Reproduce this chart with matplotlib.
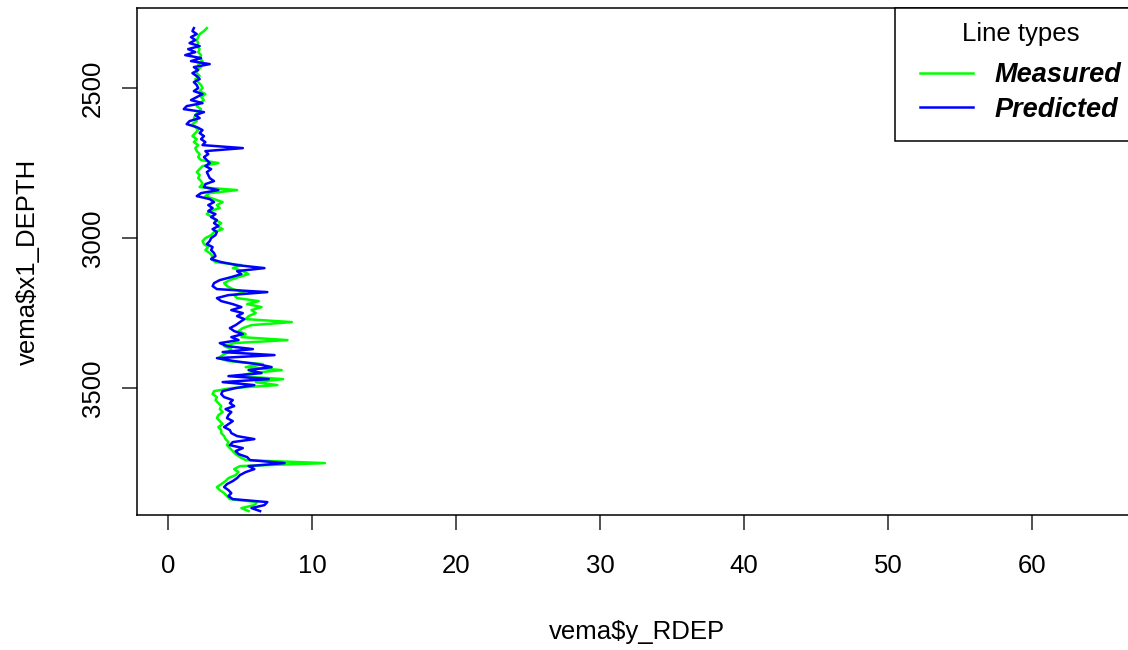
import matplotlib
matplotlib.use("Agg")
import matplotlib.pyplot as plt
from matplotlib.patches import Rectangle

plt.rcParams["font.family"] = ["Liberation Sans", "DejaVu Sans"]

# depth samples (every 10 m)
depth = list(range(2300, 3920, 10))

measured = [
    2.7, 2.5, 2.2, 2.1, 2.0, 2.1, 2.0, 2.2, 2.1, 2.3,
    2.2, 2.4, 2.1, 2.3, 2.0, 2.0, 2.2, 1.9, 2.1, 2.3,
    2.4, 2.2, 2.6, 2.3, 2.5, 2.2, 2.0, 2.3, 2.1, 1.9,
    1.8, 2.0, 1.7, 1.9, 2.1, 1.9, 1.7, 2.0, 1.8, 2.1,
    1.9, 2.0, 2.2, 2.1, 2.3, 3.5, 2.4, 2.2, 2.0, 2.2,
    2.1, 2.3, 2.4, 2.2, 4.8, 2.9, 2.6, 3.2, 3.8, 3.4,
    3.6, 2.9, 2.7, 3.1, 3.3, 3.7, 3.4, 3.8, 3.2, 3.0,
    2.6, 2.4, 2.5, 2.8, 2.6, 2.9, 3.1, 3.0, 3.3, 5.1,
    4.5, 5.2, 5.6, 4.9, 4.3, 3.9, 4.1, 4.5, 5.3, 4.6,
    4.8, 6.3, 5.5, 6.5, 5.8, 6.1, 5.6, 5.4, 8.6, 5.8,
    5.2, 4.9, 5.4, 5.1, 8.3, 4.6, 3.9, 4.4, 4.2, 3.8,
    3.5, 4.2, 6.6, 5.4, 7.9, 5.8, 4.9, 8.0, 6.1, 7.6,
    4.4, 3.2, 3.1, 3.4, 3.3, 3.5, 3.7, 3.6, 3.8, 3.5,
    3.4, 3.6, 3.8, 3.5, 3.7, 3.7, 3.9, 4.0, 4.2, 4.1,
    4.3, 4.5, 4.7, 5.0, 5.4, 10.9, 5.0, 4.6, 4.9, 4.7,
    4.2, 4.0, 3.7, 3.4, 3.6, 3.9, 4.1, 4.3, 6.2, 6.0,
    5.1, 5.6,
]

predicted = [
    1.8, 1.7, 2.0, 1.6, 1.9, 1.5, 2.2, 1.4, 1.9, 1.2,
    2.3, 1.6, 2.9, 1.8, 2.1, 1.7, 2.0, 2.2, 1.8, 2.0,
    2.1, 1.8, 2.4, 2.0, 1.6, 2.4, 1.3, 1.1, 2.5, 1.9,
    2.2, 1.5, 1.3, 2.0, 2.4, 2.2, 2.5, 2.3, 2.6, 2.4,
    5.2, 2.6, 2.8, 2.5, 2.7, 2.9, 2.6, 3.0, 2.7, 2.8,
    2.9, 3.2, 2.6, 2.5, 3.5, 2.3, 2.0, 2.9, 3.2, 2.8,
    3.1, 2.8, 3.3, 3.0, 3.4, 3.2, 3.5, 3.1, 3.4, 3.3,
    3.0, 2.9, 2.7, 3.1, 3.0, 3.2, 3.3, 3.0, 3.7, 4.8,
    6.7, 4.8, 5.1, 4.4, 3.6, 3.2, 3.1, 3.4, 6.9, 4.2,
    3.4, 3.7, 4.5, 5.1, 4.4, 5.2, 4.8, 5.3, 5.0, 4.7,
    4.3, 4.6, 5.2, 4.4, 4.9, 3.6, 4.1, 5.9, 3.8, 7.4,
    3.4, 4.6, 6.2, 7.2, 5.6, 6.5, 4.2, 7.0, 3.8, 6.0,
    4.7, 3.8, 3.7, 3.9, 4.5, 4.3, 4.6, 4.0, 4.4, 4.2,
    4.1, 4.5, 4.2, 3.9, 4.3, 4.4, 4.8, 6.0, 4.5, 4.3,
    5.2, 4.7, 4.9, 5.5, 5.7, 8.1, 5.6, 6.0, 5.4, 5.0,
    4.8, 4.5, 4.1, 3.9, 4.2, 4.4, 4.2, 4.5, 6.9, 6.7,
    5.8, 6.4,
]

fs = 18.5

fig = plt.figure(figsize=(11.28, 6.5), dpi=100)
ax = fig.add_axes([137 / 1128, 1 - 515 / 650, 1000 / 1128, 507 / 650])

ax.plot(measured, depth, color="#00ff00", lw=1.8, label="Measured")
ax.plot(predicted, depth, color="#0000ff", lw=1.8, label="Predicted")

ax.set_xlim(-2.15, 67.3)
ax.set_ylim(3923, 2233)
ax.set_xticks([0, 10, 20, 30, 40, 50, 60])
ax.set_yticks([2500, 3000, 3500])

for s in ax.spines.values():
    s.set_color("black")
    s.set_linewidth(1.1)

ax.tick_params(axis="both", length=11, width=1.1, color="#222222", labelsize=fs)
ax.tick_params(axis="x", pad=17)
ax.tick_params(axis="y", pad=12, labelrotation=90)
for t in ax.get_yticklabels():
    t.set_va("center")

ax.set_xlabel("vema$y_RDEP", fontsize=fs)
ax.set_ylabel("vema$x1_DEPTH", fontsize=fs)
ax.xaxis.set_label_coords(0.5, (515 - 632) / 507)
ax.xaxis.label.set_va("center")
ax.yaxis.set_label_coords((28 - 137) / 1000, 0.5)
ax.yaxis.label.set_va("center")

# legend contents without frame, box drawn separately (R style, runs off the edge)
leg = ax.legend(loc="upper left", bbox_to_anchor=(920 / 1128, 1 - 22 / 650),
                bbox_transform=fig.transFigure, title="Line types",
                prop={"size": 19.5, "weight": "bold", "style": "italic"},
                title_fontsize=fs, frameon=False, borderpad=0,
                handlelength=1.95, handletextpad=0.8, labelspacing=0.3,
                borderaxespad=0)
leg._legend_box.sep = leg._legend_box.sep + 6
leg.set_zorder(6)

box = Rectangle((895 / 1128, 1 - 141 / 650), 250 / 1128, 133 / 650,
                transform=fig.transFigure, facecolor="white",
                edgecolor="black", lw=1.1, clip_on=False, zorder=5)
ax.add_patch(box)

fig.savefig("out.png", dpi=100)
